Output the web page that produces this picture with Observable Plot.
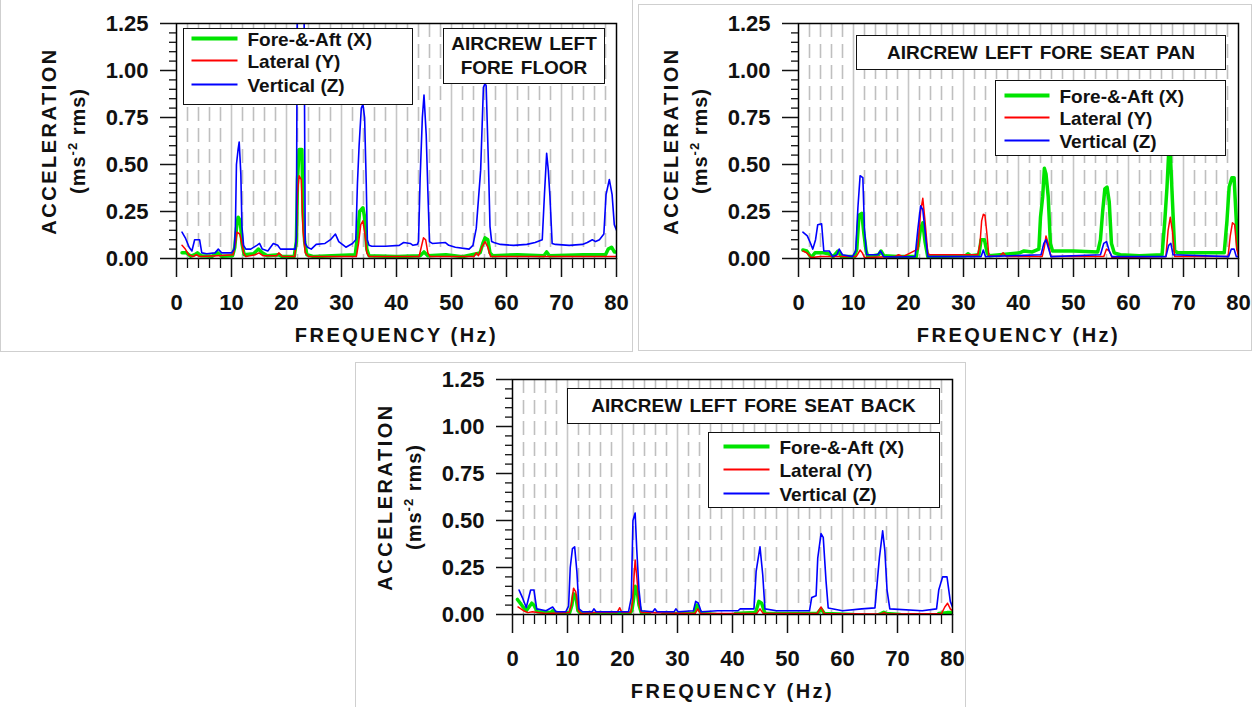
<!DOCTYPE html>
<html>
<head>
<meta charset="utf-8">
<script src="https://cdn.jsdelivr.net/npm/d3@7"></script>
<script src="https://cdn.jsdelivr.net/npm/@observablehq/plot@0.6"></script>
<style>
html,body{margin:0;padding:0;background:#fff;}
#root{position:relative;width:1257px;height:707px;overflow:hidden;font-family:"Liberation Sans",Arial,sans-serif;color:#111;}
.pane{position:absolute;border:1px solid #cfcfcf;box-sizing:border-box;}
.chart{position:absolute;}
.box{position:absolute;background:#fff;border:1.5px solid #111;box-sizing:border-box;font-weight:bold;font-size:19px;line-height:1;}
.title{display:flex;flex-direction:column;align-items:center;justify-content:center;text-align:center;line-height:24px;word-spacing:2px;}
.swsvg{position:absolute;left:0;top:0;overflow:visible;}
.lab{position:absolute;transform:translateY(-50%);white-space:nowrap;}
</style>
</head>
<body>
<div id="root"></div>
<script>
// ---------- tick values ----------
const xMajor = [0, 10, 20, 30, 40, 50, 60, 70, 80];
const xMinor = [2,4,6,8,12,14,16,18,22,24,26,28,32,34,36,38,42,44,46,48,52,54,56,58,62,64,66,68,72,74,76,78];
const xGridMajor = [10, 20, 30, 40, 50, 60, 70];
const yMajor = [0, 0.25, 0.5, 0.75, 1.0, 1.25];
const yMinor = [0.05,0.1,0.15,0.2,0.3,0.35,0.4,0.45,0.55,0.6,0.65,0.7,0.8,0.85,0.9,0.95,1.05,1.1,1.15,1.2];

// ---------- series ----------
const seriesNames = ["Fore-&-Aft (X)", "Lateral (Y)", "Vertical (Z)"];
const seriesColors = ["#00e400", "#ff0000", "#0000ff"];

// ---------- AIRCREW LEFT FORE FLOOR  [Hz, ms-2 rms] ----------
const floorFore = [[1.0,0.03],[1.8,0.03],[2.6,0.012],[3.3,0.02],[3.8,0.03],[4.4,0.015],[6.5,0.012],[7.5,0.03],[8.2,0.012],[10.2,0.015],[10.6,0.06],[10.9,0.16],[11.2,0.22],[11.6,0.2],[11.9,0.08],[12.3,0.02],[14.0,0.025],[14.9,0.05],[15.6,0.03],[16.5,0.015],[18.6,0.02],[19.2,0.01],[21.4,0.01],[21.8,0.09],[22.0,0.42],[22.3,0.58],[22.8,0.58],[23.0,0.25],[23.3,0.09],[23.7,0.02],[25,0.01],[32.5,0.02],[32.9,0.12],[33.3,0.25],[33.9,0.27],[34.2,0.22],[34.6,0.05],[35,0.015],[40,0.01],[44.3,0.015],[45.0,0.035],[45.7,0.015],[49,0.02],[52,0.01],[55.2,0.03],[55.7,0.08],[56.1,0.11],[56.6,0.1],[57.0,0.03],[57.5,0.015],[62,0.02],[66.8,0.015],[67.3,0.035],[67.8,0.015],[74,0.02],[78,0.02],[78.5,0.05],[79.1,0.06],[79.6,0.035],[80,0.035]];
const floorLat = [[1.0,0.07],[1.6,0.05],[2.2,0.02],[3,0.01],[3.6,0.02],[4.2,0.01],[7.5,0.015],[10.3,0.02],[10.7,0.08],[11.0,0.14],[11.5,0.13],[11.9,0.08],[12.2,0.03],[12.6,0.01],[14.3,0.02],[15,0.03],[15.7,0.015],[18.2,0.015],[18.6,0.03],[19.2,0.012],[21.5,0.01],[21.8,0.1],[22.0,0.35],[22.3,0.44],[22.7,0.42],[23.0,0.15],[23.4,0.03],[24,0.01],[32.7,0.01],[33.1,0.08],[33.5,0.18],[33.9,0.2],[34.3,0.12],[34.6,0.03],[35,0.01],[44.1,0.01],[44.5,0.06],[44.9,0.11],[45.3,0.1],[45.7,0.03],[46.1,0.01],[54.1,0.01],[54.5,0.03],[54.9,0.015],[55.5,0.06],[56.1,0.09],[56.6,0.06],[57.1,0.01],[80,0.01]];
const floorVert = [[1.0,0.14],[1.6,0.11],[2.3,0.06],[2.8,0.04],[3.3,0.10],[4.2,0.10],[4.6,0.03],[5.5,0.025],[7.0,0.03],[7.6,0.05],[8.2,0.03],[10.0,0.03],[10.5,0.05],[10.7,0.15],[10.9,0.5],[11.2,0.58],[11.4,0.62],[11.7,0.45],[11.9,0.17],[12.2,0.07],[12.6,0.05],[13.5,0.05],[14.6,0.07],[15.1,0.08],[15.6,0.05],[16.6,0.04],[17.6,0.08],[18.4,0.07],[18.9,0.05],[21.6,0.05],[21.8,0.12],[21.95,1.3],[23.2,1.3],[23.4,0.08],[23.8,0.06],[24.5,0.05],[25.4,0.075],[27.0,0.08],[28.0,0.10],[28.9,0.13],[29.5,0.09],[30.8,0.06],[32.0,0.08],[32.6,0.1],[32.9,0.4],[33.2,0.6],[33.6,0.8],[33.9,0.82],[34.2,0.75],[34.5,0.4],[34.7,0.1],[35.0,0.07],[35.5,0.065],[38,0.065],[40.5,0.07],[41.3,0.085],[42.5,0.08],[43,0.07],[43.8,0.075],[44.0,0.09],[44.3,0.43],[44.7,0.75],[45.0,0.87],[45.4,0.66],[45.7,0.36],[46.0,0.09],[46.5,0.08],[48.9,0.085],[49.5,0.07],[50.7,0.06],[53.2,0.05],[53.9,0.07],[54.5,0.16],[55.3,0.47],[55.8,0.91],[56.1,0.93],[56.3,0.92],[56.7,0.52],[57.0,0.17],[57.3,0.09],[57.7,0.085],[58.9,0.075],[61.3,0.07],[63.7,0.075],[65.2,0.085],[66.5,0.1],[66.9,0.34],[67.3,0.56],[67.6,0.47],[67.9,0.33],[68.3,0.08],[68.9,0.075],[71.4,0.07],[73.8,0.075],[74.7,0.085],[75.6,0.1],[76.2,0.09],[76.9,0.1],[77.7,0.13],[78.1,0.34],[78.7,0.42],[79.2,0.34],[79.6,0.18],[80,0.15]];

// ---------- AIRCREW LEFT FORE SEAT PAN ----------
const panFore = [[0.8,0.045],[1.5,0.04],[2.3,0.005],[3.0,0.03],[4.5,0.03],[5.5,0.025],[6.3,0.01],[7.2,0.04],[7.8,0.01],[10.2,0.01],[10.6,0.05],[11.0,0.23],[11.5,0.24],[11.9,0.13],[12.3,0.04],[12.6,0.01],[14.6,0.02],[15.0,0.04],[15.5,0.015],[18,0.01],[21.4,0.01],[21.8,0.08],[22.2,0.16],[22.6,0.19],[23.0,0.09],[23.5,0.01],[30.4,0.015],[30.8,0.025],[31.3,0.015],[32.8,0.02],[33.2,0.1],[33.8,0.1],[34.3,0.03],[34.7,0.015],[40.2,0.03],[41,0.04],[42.5,0.035],[43.7,0.05],[44.0,0.22],[44.4,0.33],[44.7,0.48],[45.0,0.45],[45.4,0.33],[45.8,0.08],[46.2,0.04],[50,0.04],[54.4,0.035],[54.9,0.1],[55.3,0.25],[55.7,0.37],[56.1,0.38],[56.5,0.3],[56.9,0.08],[57.4,0.03],[58.5,0.02],[62,0.015],[66.1,0.02],[66.6,0.2],[67.0,0.38],[67.3,0.56],[67.6,0.56],[68.0,0.3],[68.4,0.04],[69,0.03],[73,0.03],[77.4,0.03],[77.9,0.2],[78.3,0.38],[78.8,0.43],[79.2,0.43],[79.6,0.2],[79.85,0.05],[80,0.05]];
const panLat = [[0.8,0.04],[1.5,0.03],[2.3,0.005],[4,0.01],[10.5,0.01],[11.2,0.045],[11.6,0.03],[12.0,0.005],[17.6,0.01],[18.2,0.02],[19,0.01],[21.7,0.05],[22.2,0.25],[22.6,0.32],[23.0,0.2],[23.5,0.03],[23.8,0.02],[32.6,0.02],[33.0,0.08],[33.3,0.2],[33.6,0.235],[33.9,0.23],[34.3,0.12],[34.6,0.015],[36.5,0.01],[37.2,0.03],[37.8,0.01],[44.3,0.01],[44.7,0.06],[45.0,0.12],[45.4,0.08],[45.9,0.01],[55.5,0.01],[56.0,0.05],[56.5,0.04],[57.0,0.005],[66.8,0.01],[67.2,0.15],[67.6,0.22],[68.0,0.14],[68.4,0.01],[78.1,0.01],[78.5,0.12],[78.9,0.19],[79.3,0.18],[79.7,0.05],[80,0.01]];
const panVert = [[0.8,0.14],[1.6,0.12],[2.2,0.08],[2.6,0.05],[3.1,0.1],[3.5,0.18],[4.2,0.185],[4.6,0.04],[5.6,0.04],[6.2,0.01],[7.0,0.02],[7.4,0.05],[8.0,0.02],[9.8,0.01],[10.4,0.04],[10.8,0.27],[11.2,0.44],[11.7,0.43],[12.0,0.15],[12.4,0.02],[14.4,0.02],[14.9,0.04],[15.5,0.01],[18,0.008],[21.2,0.01],[21.7,0.155],[22.2,0.28],[22.6,0.26],[23.0,0.15],[23.5,0.01],[33.2,0.01],[33.6,0.045],[34.0,0.01],[44.1,0.02],[44.6,0.08],[45.0,0.1],[45.4,0.06],[45.9,0.01],[54.9,0.02],[55.5,0.08],[56.0,0.09],[56.5,0.04],[57,0.01],[66.8,0.01],[67.3,0.07],[67.7,0.08],[68.1,0.02],[78.2,0.01],[78.7,0.05],[79.2,0.05],[79.6,0.01],[80,0.01]];

// ---------- AIRCREW LEFT FORE SEAT BACK ----------
const backFore = [[0.9,0.08],[1.8,0.045],[2.5,0.02],[3.5,0.06],[3.9,0.05],[4.5,0.015],[7,0.01],[7.3,0.02],[7.8,0.005],[10.4,0.01],[10.8,0.05],[11.1,0.11],[11.5,0.1],[11.9,0.02],[12.5,0.005],[21.3,0.005],[21.7,0.02],[22.0,0.08],[22.3,0.15],[22.6,0.14],[23.0,0.05],[23.4,0.01],[24.8,0.005],[25.2,-0.008],[27,-0.008],[27.5,0.005],[32.9,0.005],[33.5,0.05],[34.0,0.02],[34.5,0.005],[37,0.0],[37.5,-0.008],[40,-0.008],[40.5,0.005],[44.2,0.01],[44.8,0.07],[45.3,0.06],[45.9,0.005],[55.4,0.005],[56.1,0.03],[56.7,0.005],[62,0.0],[62.5,-0.008],[66,-0.008],[67,0.005],[67.5,0.012],[68,0.005],[70.5,0.0],[71,-0.008],[77,-0.008],[77.5,0.005],[79,0.01],[80,0.01]];
const backLat = [[1.0,0.04],[2.0,0.02],[2.8,0.01],[3.6,0.015],[6,0.005],[10.3,0.01],[10.7,0.05],[11.1,0.14],[11.5,0.12],[12.0,0.02],[12.5,0.005],[15,0.01],[19.0,0.01],[19.5,0.036],[19.9,0.01],[21.5,0.01],[21.8,0.06],[22.1,0.2],[22.3,0.29],[22.6,0.2],[23.0,0.06],[23.4,0.01],[33.2,0.005],[33.7,0.03],[34.2,0.005],[44.4,0.005],[45.0,0.03],[45.6,0.005],[55.4,0.005],[56.1,0.04],[56.7,0.005],[67,0.003],[67.6,0.01],[68.1,0.003],[78.0,0.005],[78.6,0.04],[79.1,0.06],[79.6,0.03],[80,0.02]];
const backVert = [[1.2,0.13],[1.8,0.09],[2.5,0.037],[3.3,0.13],[3.9,0.13],[4.4,0.03],[6.1,0.02],[7.3,0.04],[7.9,0.015],[9.7,0.015],[10.2,0.045],[10.5,0.25],[10.9,0.35],[11.3,0.36],[11.7,0.23],[12.1,0.03],[12.7,0.015],[14.5,0.015],[14.8,0.03],[15.2,0.015],[21.1,0.015],[21.6,0.09],[21.9,0.5],[22.3,0.54],[22.6,0.34],[23.0,0.13],[23.4,0.02],[25.5,0.015],[25.9,0.03],[26.3,0.015],[29.4,0.015],[29.7,0.03],[30.1,0.015],[32.9,0.02],[33.3,0.07],[33.8,0.06],[34.3,0.015],[37.3,0.02],[41,0.02],[41.4,0.03],[43.9,0.03],[44.3,0.23],[45.0,0.36],[45.5,0.21],[45.9,0.03],[48,0.02],[54,0.02],[54.4,0.09],[55.2,0.1],[55.5,0.3],[56.1,0.43],[56.5,0.41],[57.0,0.18],[57.4,0.035],[60,0.02],[63.5,0.03],[65.9,0.035],[66.7,0.3],[67.3,0.445],[67.7,0.34],[68.1,0.13],[68.6,0.03],[74.5,0.02],[77.1,0.03],[77.5,0.13],[78.2,0.2],[79.0,0.2],[79.6,0.07],[80,0.04]];

// ---------- layout ----------
const root = document.getElementById("root");
const FONT = "Liberation Sans, Arial, Helvetica, sans-serif";
const NS = "http://www.w3.org/2000/svg";

const panes = [[0,-1,633,353],[638,4,614,347],[355,362,611,350]];
for (const [l,t,w,h] of panes) {
  const d = document.createElement("div");
  d.className = "pane";
  Object.assign(d.style, {left:l+"px", top:t+"px", width:w+"px", height:h+"px"});
  root.appendChild(d);
}

const panels = [
  {left:0, top:0, data:[floorFore, floorLat, floorVert],
   title:["AIRCREW LEFT","FORE FLOOR"], titleBox:[443,28,162,56],
   legendBox:[183,28,230,77], rows:[11,33,57], sw:[9,55], tx:65},
  {left:621.5, top:0, data:[panFore, panLat, panVert],
   title:["AIRCREW LEFT FORE SEAT PAN"], titleBox:[856,35,370,35],
   legendBox:[995,80,231,76], rows:[16,38,61], sw:[10,55], tx:65},
  {left:335.5, top:355.5, data:[backFore, backLat, backVert],
   title:["AIRCREW LEFT FORE SEAT BACK"], titleBox:[567,388,373,36],
   legendBox:[708,432,232,76], rows:[15,38,62], sw:[16,62], tx:72}
];

const widths = [3.5, 1.5, 1.6];

for (const p of panels) {
  const lineMarks = p.data.map((s, i) => Plot.line(s, {
    x: d => d[0], y: d => d[1], stroke: seriesColors[i], strokeWidth: widths[i], clip: true
  }));
  const svg = Plot.plot({
    width: 632, height: 352,
    marginLeft: 176, marginRight: 16, marginTop: 23, marginBottom: 94,
    x: {domain: [0, 80]},
    y: {domain: [0, 1.25]},
    style: {fontFamily: FONT, fontWeight: "bold", color: "#111", background: "transparent", overflow: "visible"},
    marks: [
      Plot.ruleX(xMinor, {stroke: "#bfbfbf", strokeWidth: 1.6, strokeDasharray: "14,7"}),
      Plot.ruleX(xGridMajor, {stroke: "#c6c6c6", strokeWidth: 1.6}),
      ...lineMarks,
      Plot.frame({stroke: "#000", strokeWidth: 1.5}),
      Plot.axisY(yMajor, {tickSize: 16, tickPadding: 12, tickFormat: d3.format(".2f"), fontSize: 22, strokeWidth: 1.5}),
      Plot.axisY(yMinor, {tickSize: 7, tickFormat: () => "", strokeWidth: 1.3}),
      Plot.axisX(xMajor, {tickSize: 19, tickPadding: 17, tickFormat: d3.format("d"), fontSize: 22, strokeWidth: 1.5}),
      Plot.axisX(xMinor, {tickSize: 10, tickFormat: () => "", strokeWidth: 1.3}),
      Plot.text(["ACCELERATION"], {frameAnchor: "left", textAnchor: "middle", lineAnchor: "middle", dx: -127, rotate: -90, fontSize: 20, fontWeight: "bold"}),
      Plot.text(["(ms-2 rms)"], {frameAnchor: "left", textAnchor: "middle", lineAnchor: "middle", dx: -98, rotate: -90, fontSize: 20, fontWeight: "bold"}),
      Plot.text(["FREQUENCY (Hz)"], {frameAnchor: "bottom", textAnchor: "middle", lineAnchor: "middle", dy: 77, fontSize: 20, fontWeight: "bold"})
    ]
  });
  svg.classList.add("chart");
  svg.style.left = p.left + "px";
  svg.style.top = p.top + "px";
  svg.style.position = "absolute";
  for (const t of svg.querySelectorAll("text")) {
    const s = t.textContent;
    if (s === "ACCELERATION" || s === "FREQUENCY (Hz)") t.style.letterSpacing = "2.5px";
    if (s === "(ms-2 rms)") {
      t.style.letterSpacing = "1px";
      t.textContent = "";
      const a = document.createElementNS(NS, "tspan"); a.textContent = "(ms";
      const b = document.createElementNS(NS, "tspan"); b.textContent = "-2"; b.setAttribute("dy", "-8"); b.setAttribute("font-size", "13");
      const c = document.createElementNS(NS, "tspan"); c.textContent = " rms)"; c.setAttribute("dy", "8");
      t.append(a, b, c);
    }
  }
  root.appendChild(svg);

  // title box
  const tb = document.createElement("div");
  tb.className = "box title";
  const [tl, tt, tw, th] = p.titleBox;
  Object.assign(tb.style, {left: tl+"px", top: tt+"px", width: tw+"px", height: th+"px"});
  for (const line of p.title) { const s = document.createElement("div"); s.textContent = line; tb.appendChild(s); }
  root.appendChild(tb);

  // legend box
  const lb = document.createElement("div");
  lb.className = "box";
  const [ll, lt, lw, lh] = p.legendBox;
  Object.assign(lb.style, {left: ll+"px", top: lt+"px", width: lw+"px", height: lh+"px"});
  const ssvg = document.createElementNS(NS, "svg");
  ssvg.setAttribute("class", "swsvg");
  ssvg.setAttribute("width", lw);
  ssvg.setAttribute("height", lh);
  seriesNames.forEach((name, i) => {
    const ln = document.createElementNS(NS, "line");
    ln.setAttribute("x1", p.sw[0] - 1.5);
    ln.setAttribute("x2", p.sw[1] - 1.5);
    ln.setAttribute("y1", p.rows[i] - 1.5);
    ln.setAttribute("y2", p.rows[i] - 1.5);
    ln.setAttribute("stroke", seriesColors[i]);
    ln.setAttribute("stroke-width", i === 0 ? 4 : 1.8);
    ssvg.appendChild(ln);
    const lab = document.createElement("div");
    lab.className = "lab";
    lab.textContent = name;
    Object.assign(lab.style, {left: (p.tx-1.5)+"px", top: (p.rows[i]-1.5)+"px"});
    lb.appendChild(lab);
  });
  lb.appendChild(ssvg);
  root.appendChild(lb);
}
</script>
</body>
</html>
